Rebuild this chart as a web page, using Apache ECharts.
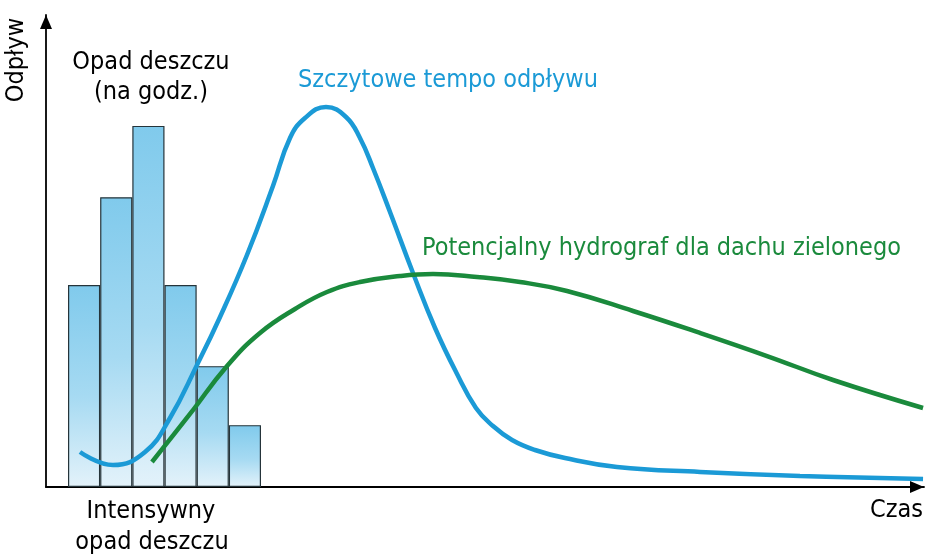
<!DOCTYPE html>
<html lang="pl">
  <head>
    <meta charset="UTF-8" />
    <title>hydrograf</title>
    <style>
      html, body { margin: 0; padding: 0; background: #fff; }
      #chart { width: 932px; height: 559px; }
    </style>
  </head>
  <body>
    <div id="chart"></div>
    <script src="https://cdn.jsdelivr.net/npm/echarts@6/dist/echarts.min.js"></script>
    <script>
      // opad deszczu na godzinę (6 słupków), jednostki względne 0-100
      const rainHours = ["1", "2", "3", "4", "5", "6"];
      const rainValues = [42.8, 61.4, 76.5, 42.8, 25.6, 13.1];

      // szczytowe tempo odpływu: [czas, odpływ]
      const peakTime = [3.87, 7.63, 11.28, 14.12, 17.2, 19.82, 22.89, 25.85, 27.79, 29.5,
        31.89, 34.17, 35.76, 37.24, 39.18, 41.8, 44.31, 46.7, 48.97, 50.91, 53.08, 55.69,
        59.11, 65.03, 74.49, 85.88, 99.89];
      const peakFlow = [7.42, 4.66, 7.42, 14.62, 25.85, 36.02, 49.15, 63.77, 73.94, 78.18,
        80.51, 78.39, 73.94, 67.58, 58.26, 45.34, 33.69, 24.36, 16.74, 12.92, 9.96, 7.84,
        6.14, 4.24, 3.18, 2.33, 1.69];

      // hydrograf dachu zielonego
      const greenTime = [12.07, 16.4, 20.62, 24.37, 28.36, 32.0, 35.76, 40.32, 44.08,
        49.09, 53.99, 59.34, 66.86, 74.49, 82.12, 89.64, 99.89];
      const greenFlow = [5.3, 15.47, 25.64, 32.63, 37.71, 41.31, 43.43, 44.7, 45.13,
        44.49, 43.43, 41.53, 37.29, 32.63, 27.75, 22.67, 16.74];

      const font = '"DejaVu Sans Condensed", "Liberation Sans Narrow", sans-serif';
      const blue = "#1b9ad6";
      const green = "#1a8a3c";

      const zip = (xs, ys) => xs.map((x, i) => [x, ys[i]]);

      const axisLine = {
        show: true,
        lineStyle: { color: "#000", width: 1.8 },
        symbol: ["none", "triangle"],
        symbolSize: [12, 14],
        symbolOffset: [0, -7],
      };

      const chart = echarts.init(document.getElementById("chart"));
      const option = {
        animation: false,
        grid: [
          { left: 46, right: 8, top: 15, bottom: 72 },
          { left: 68, right: 671, top: 15, bottom: 72 },
        ],
        xAxis: [
          {
            type: "value",
            gridIndex: 0,
            min: 0,
            max: 100,
            axisLine: axisLine,
            axisTick: { show: false },
            axisLabel: { show: false },
            splitLine: { show: false },
          },
          {
            type: "category",
            gridIndex: 1,
            data: rainHours,
            show: false,
          },
        ],
        yAxis: [
          {
            type: "value",
            gridIndex: 0,
            min: 0,
            max: 100,
            axisLine: axisLine,
            axisTick: { show: false },
            axisLabel: { show: false },
            splitLine: { show: false },
          },
          { type: "value", gridIndex: 1, min: 0, max: 100, show: false },
        ],
        series: [
          {
            type: "bar",
            xAxisIndex: 1,
            yAxisIndex: 1,
            data: rainValues,
            barCategoryGap: "0%",
            itemStyle: {
              borderColor: "#25343a",
              borderWidth: 1.2,
              color: new echarts.graphic.LinearGradient(0, 0, 0, 1, [
                { offset: 0, color: "#80caec" },
                { offset: 0.55, color: "#a6daf2" },
                { offset: 1, color: "#e3f2fa" },
              ]),
            },
            z: 1,
          },
          {
            type: "line",
            data: zip(peakTime, peakFlow),
            smooth: 0.45,
            showSymbol: false,
            clip: false,
            lineStyle: { color: blue, width: 4.5 },
            z: 3,
          },
          {
            type: "line",
            data: zip(greenTime, greenFlow),
            smooth: 0.45,
            showSymbol: false,
            clip: false,
            lineStyle: { color: green, width: 4.5 },
            z: 4,
          },
        ],
        graphic: [
          {
            type: "text", x: 16, y: 60, rotation: Math.PI / 2,
            style: { text: "Odpływ", font: "25px " + font, fill: "#000",
              align: "center", verticalAlign: "middle" },
          },
          {
            type: "text", x: 151, y: 62,
            style: { text: "Opad deszczu", font: "25px " + font, fill: "#000",
              align: "center", verticalAlign: "middle" },
          },
          {
            type: "text", x: 151, y: 92,
            style: { text: "(na godz.)", font: "25px " + font, fill: "#000",
              align: "center", verticalAlign: "middle" },
          },
          {
            type: "text", x: 298, y: 80,
            style: { text: "Szczytowe tempo odpływu", font: "25px " + font, fill: blue,
              align: "left", verticalAlign: "middle" },
          },
          {
            type: "text", x: 422, y: 248,
            style: { text: "Potencjalny hydrograf dla dachu zielonego", font: "25px " + font,
              fill: green, align: "left", verticalAlign: "middle" },
          },
          {
            type: "text", x: 151, y: 511,
            style: { text: "Intensywny", font: "25px " + font, fill: "#000",
              align: "center", verticalAlign: "middle" },
          },
          {
            type: "text", x: 152, y: 542,
            style: { text: "opad deszczu", font: "25px " + font, fill: "#000",
              align: "center", verticalAlign: "middle" },
          },
          {
            type: "text", x: 923, y: 510,
            style: { text: "Czas", font: "25px " + font, fill: "#000",
              align: "right", verticalAlign: "middle" },
          },
        ],
      };
      chart.setOption(option);
    </script>
  </body>
</html>
